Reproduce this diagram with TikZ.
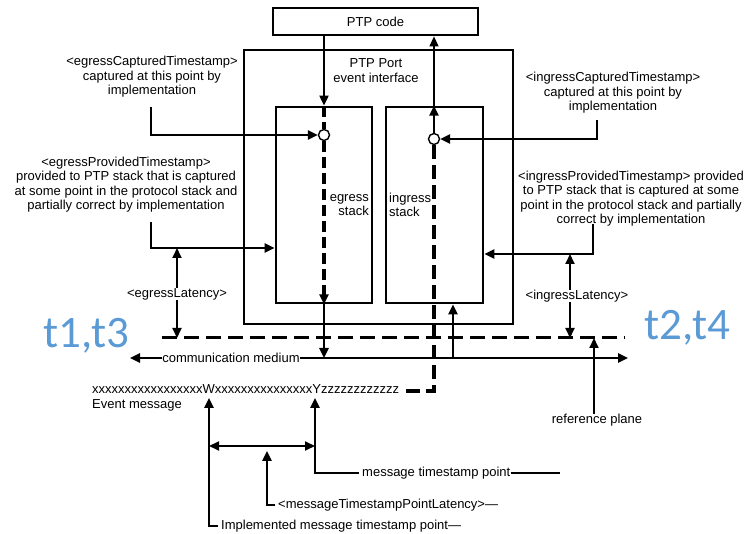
\documentclass[tikz,border=0pt]{standalone}
\usepackage{fontspec}
\setmainfont{Liberation Sans}
\newfontfamily\calib{Carlito}
\usetikzlibrary{arrows.meta,calc}
\definecolor{tblue}{HTML}{5B9BD5}
\begin{document}
\begin{tikzpicture}[x=1pt,y=-1pt,
  txt/.style={font=\fontsize{13}{14.5}\selectfont, inner sep=0pt, align=center},
  lbl/.style={txt, inner xsep=3pt, anchor=west},
  box/.style={draw, line width=2.8pt, inner sep=0pt},
  con/.style={line width=2.4pt},
  thin/.style={line width=1.8pt},
  tip/.tip={Triangle[length=10pt,width=9pt]},
  arr/.style={con, -tip},
  dsh/.style={line width=3.2pt, dash pattern=on 11pt off 5pt},
  idsh/.style={line width=3.2pt, dash pattern=on 14pt off 6pt},
  hdsh/.style={line width=3pt, dash pattern=on 15pt off 7pt},
  tl/.style={font=\calib\fontsize{45}{45}\selectfont, text=tblue, inner sep=0pt, anchor=base west},
  dot/.style={circle, draw, fill=white, line width=1.4pt, minimum size=11pt, inner sep=0pt}
]
\useasboundingbox (0,0) rectangle (745,534);

% boxes
\node[box, txt, minimum width=205pt, minimum height=27pt] (code) at (375.5,21.5) {PTP code};
\node[box, minimum width=269pt, minimum height=274pt] (port) at (378.5,187) {};
\node[txt] (porttxt) at (376,70.5) {PTP Port\\event interface};
\node[box, minimum width=96pt, minimum height=196pt] (ebox) at (324,205) {};
\node[box, minimum width=97pt, minimum height=196pt] (ibox) at (434.5,205) {};
\node[txt, anchor=east, align=right] (etxt) at (369,205) {egress\\stack};
\node[txt, anchor=west, align=left] (itxt) at (389,205) {ingress\\stack};

% reference plane and communication medium
\coordinate (refL) at (162,338);
\coordinate (refR) at (625,338);
\draw[hdsh] (refL) -- (refR);
\node[txt] (cmt) at (231,358) {communication medium};
\coordinate (cmL) at (130,358);
\coordinate (cmR) at (628,358);
\draw[arr] (cmt.west) -- (cmL);
\draw[arr] (cmt.east) -- (cmR);

% egress path
\node[dot] (ecirc) at (324,135) {};
\draw[arr, line width=2pt] (code.south -| ecirc) -- (ebox.north -| ecirc);
\draw[dsh] (ebox.north -| ecirc) -- (ecirc.north);
\draw[dsh, -tip] (ecirc.south) -- (ebox.south -| ecirc);
\draw[arr] (ebox.south -| ecirc) -- (ecirc |- cmt);

% ingress path
\node[dot] (icirc) at (434,139) {};
\coordinate (icorner) at (434,391);
\coordinate (iend) at (406,391);
\draw[idsh] (icirc.south) -- (icorner) -- (iend);
\draw[arr] (icirc.north) -- (ibox.north -| icirc);
\draw[arr, line width=1.3pt] (ibox.north -| icirc) -- (code.south -| icirc);
\coordinate (iup) at (453,358);
\draw[arr] (iup) -- (ibox.south -| iup);

% egress captured
\node[txt] (ectxt) at (152,77) {<egressCapturedTimestamp>\\captured at this point by\\implementation};
\coordinate (ec0) at (151,107);
\draw[arr] (ec0) |- (ecirc.west);

% egress provided
\node[txt] (eptxt) at (126,184.5) {<egressProvidedTimestamp>\\provided to PTP stack that is captured\\at some point in the protocol stack and\\partially correct by implementation};
\coordinate (ep0) at (151,222);
\coordinate (epc) at (151,248);
\draw[arr] (ep0) -- (epc) -- (epc -| ebox.west);

% egress latency
\node[txt] (elat) at (177,294) {<egressLatency>};
\draw[arr, thin] (elat.north) -- (elat.north |- epc);
\draw[arr, thin] (elat.south) -- (elat.south |- refL);

% ingress captured
\node[txt] (ictxt) at (613,93) {<ingressCapturedTimestamp>\\captured at this point by\\implementation};
\coordinate (ic0) at (597,120);
\draw[arr] (ic0) |- (icirc.east);

% ingress provided
\node[txt] (iptxt) at (631,198.5) {<ingressProvidedTimestamp> provided\\to PTP stack that is captured at some\\point in the protocol stack and partially\\correct by implementation};
\coordinate (ip0) at (593,224);
\coordinate (ipc) at (593,254);
\draw[arr] (ip0) -- (ipc) -- (ipc -| ibox.east);

% ingress latency
\node[txt] (ilat) at (577,296) {<ingressLatency>};
\coordinate (ilx) at (570,0);
\draw[arr, thin] (ilat.north -| ilx) -- (ipc -| ilx);
\draw[arr, thin] (ilat.south -| ilx) -- (refR -| ilx);

% reference plane label
\node[txt] (rp) at (597,420) {reference plane};
\coordinate (rpx) at (594,0);
\draw[arr, thin] (rp.north -| rpx) -- (refR -| rpx);

% event message
\node[txt, anchor=base west] (ev) at (92,394) {xxxxxxxxxxxxxxxxxWxxxxxxxxxxxxxxxYzzzzzzzzzzzz};
\node[txt, anchor=base west] (evl) at (92,409) {Event message};
\coordinate (wt) at (209,398);
\coordinate (yt) at (315,398);
\node[lbl] (imp) at (218,526) {Implemented message timestamp point—};
\draw[arr] (imp.west) -| (wt);
\node[lbl] (mts) at (359,473) {message timestamp point};
\draw[arr] (mts.west) -| (yt);
\coordinate (mtsend) at (560,473);
\draw[con] ([xshift=-3pt]mts.east) -- (mtsend);
\coordinate (da1) at (209,446);
\coordinate (da2) at (315,446);
\draw[con, thin, tip-tip] (da1) -- (da2);
\node[lbl] (mtl) at (275,505) {<messageTimestampPointLatency>—};
\coordinate (lt) at (267,451);
\draw[arr] (mtl.west) -| (lt);

% timestamps
\node[tl] (t13) at (43,348) {t1,t3};
\node[tl] (t24) at (644,340) {t2,t4};
\end{tikzpicture}
\end{document}
